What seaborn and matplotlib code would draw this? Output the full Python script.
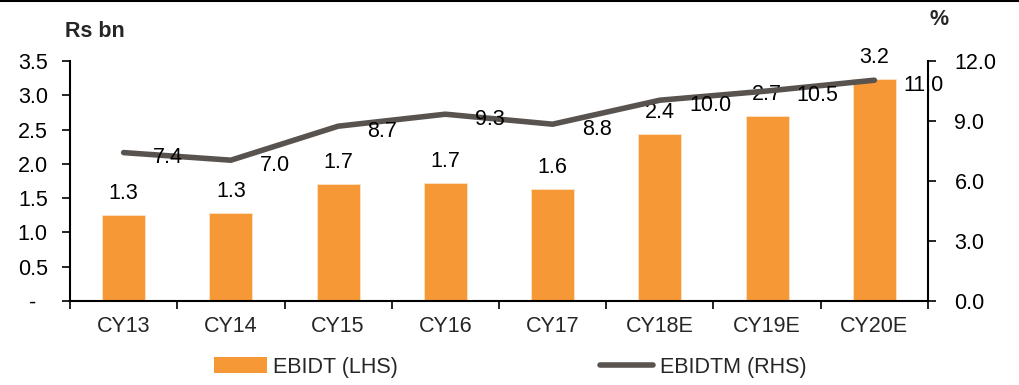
import numpy as np
import pandas as pd
import matplotlib
matplotlib.use("Agg")
import matplotlib.pyplot as plt
from matplotlib.lines import Line2D
from matplotlib.patches import Patch
from matplotlib.ticker import FixedLocator
import seaborn as sns

# EBIDT (Rs bn, left axis) and EBIDT margin (%, right axis)
years = ["CY13", "CY14", "CY15", "CY16", "CY17", "CY18E", "CY19E", "CY20E"]
ebidt = [1.26, 1.29, 1.70, 1.72, 1.64, 2.44, 2.70, 3.24]
ebidt_margin = [7.42, 7.04, 8.74, 9.34, 8.84, 10.04, 10.50, 11.04]
left_ticks = [0.0, 0.5, 1.0, 1.5, 2.0, 2.5, 3.0, 3.5]
right_ticks = [0.0, 3.0, 6.0, 9.0, 12.0]

BAR_COLOR = "#F79837"
LINE_COLOR = "#595350"
FS = 15.5

sns.set_theme(style="white")
plt.rcParams["font.family"] = ["Liberation Sans", "DejaVu Sans"]
plt.rcParams["font.size"] = FS

df = pd.DataFrame({"year": years, "ebidt": ebidt, "margin": ebidt_margin})
df["pos"] = np.arange(len(df))

fig = plt.figure(figsize=(10.2, 3.85), dpi=100)
ax = fig.add_axes([70 / 1020, 1 - 301 / 385, (928 - 70) / 1020, (301 - 61) / 385])

sns.barplot(data=df, x="year", y="ebidt", color=BAR_COLOR, width=0.4,
            saturation=1, ax=ax, edgecolor="#FCE3C8", linewidth=0.6)
ax.set_xlim(-0.5, len(years) - 0.5)
ax.set_ylim(0, 3.5)
ax.set_xlabel("")
ax.set_ylabel("")

# left axis ticks, zero shown as a dash
ax.set_yticks(left_ticks)
ax.set_yticklabels(["-  "] + [f"{v:.1f}" for v in left_ticks[1:]], fontsize=FS)
ax.tick_params(axis="y", direction="out", length=6, width=1.2, pad=10,
               left=True, color="black", labelcolor="black")

# category labels centred, tick marks at category boundaries
ax.tick_params(axis="x", which="major", length=0, pad=11, labelsize=FS)
ax.xaxis.set_minor_locator(FixedLocator(np.arange(-0.5, len(years), 1.0)))
ax.tick_params(axis="x", which="minor", direction="out", length=6, width=1.2,
               bottom=True, color="black")

for side in ["top", "right"]:
    ax.spines[side].set_visible(False)
for side in ["left", "bottom"]:
    ax.spines[side].set_color("black")
    ax.spines[side].set_linewidth(1.5)

for i, v in enumerate(ebidt):
    ax.annotate(f"{v:.1f}", xy=(i, v), xytext=(0, 11.5), textcoords="offset points",
                ha="center", va="baseline", fontsize=FS, color="black")

# margin line on the right axis
ax2 = ax.twinx()
sns.lineplot(data=df, x="pos", y="margin", ax=ax2, color=LINE_COLOR,
             linewidth=4, solid_capstyle="round", solid_joinstyle="round")
ax2.set_ylim(0, 12)
ax2.set_xlim(-0.5, len(years) - 0.5)
ax2.set_ylabel("")
ax2.set_xlabel("")
ax2.set_yticks(right_ticks)
ax2.set_yticklabels([f"{v:.1f}" for v in right_ticks], fontsize=FS)
ax2.tick_params(axis="y", direction="out", length=6, width=1.2, pad=13,
                right=True, color="black", labelcolor="black")
for side in ["top", "left", "bottom"]:
    ax2.spines[side].set_visible(False)
ax2.spines["right"].set_color("black")
ax2.spines["right"].set_linewidth(1.5)

for i, v in enumerate(ebidt_margin):
    ax2.annotate(f"{v:.1f}", xy=(i, v), xytext=(21, -7.5), textcoords="offset points",
                 ha="left", va="baseline", fontsize=FS, color="black")

# unit captions
fig.text(65 / 1020, 1 - 37 / 385, "Rs bn", fontsize=FS, fontweight="bold",
         ha="left", va="baseline")
fig.text(930 / 1020, 1 - 25 / 385, "%", fontsize=FS, fontweight="bold",
         ha="left", va="baseline")

# rule across the top edge
fig.add_artist(Line2D([0, 1], [1 - 1 / 385, 1 - 1 / 385], color="black",
                      linewidth=1.5, transform=fig.transFigure))

handles = [Patch(facecolor=BAR_COLOR, edgecolor="none"),
           Line2D([], [], color=LINE_COLOR, linewidth=4, solid_capstyle="round")]
fig.legend(handles, ["EBIDT (LHS)", "EBIDTM (RHS)"], loc="center",
           bbox_to_anchor=(510 / 1020, 1 - 367 / 385), ncol=2, frameon=False,
           fontsize=FS, handlelength=2.45, handletextpad=0.3, columnspacing=9.4,
           borderaxespad=0)

fig.savefig("out.png", dpi=100)
